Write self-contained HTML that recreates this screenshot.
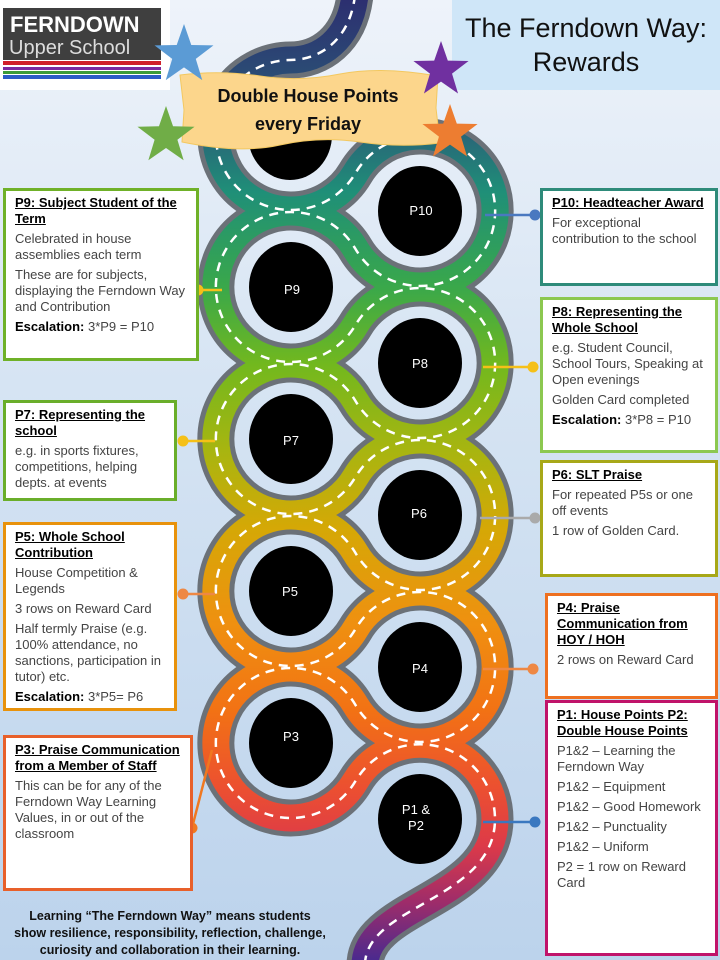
<!DOCTYPE html>
<html><head><meta charset="utf-8"><style>
*{margin:0;padding:0;box-sizing:border-box}
body{width:720px;height:960px;overflow:hidden;position:relative;font-family:"Liberation Sans",sans-serif;background:linear-gradient(180deg,#eef3fa 0%,#d6e4f3 40%,#bcd3ec 100%)}
.box{position:absolute;background:#fff;border:3px solid;padding:4px 8px 4px 9px;font-size:13px;line-height:16px;color:#444;overflow:hidden}
.box h4{font-size:13px;font-weight:bold;text-decoration:underline;color:#000;margin-bottom:4px;line-height:16px}
.box p{margin-bottom:4px}
.box b{color:#000}
svg{position:absolute;left:0;top:0}
</style></head><body>
<svg width="720" height="960" viewBox="0 0 720 960">
<defs>
<linearGradient id="rg" gradientUnits="userSpaceOnUse" x1="0" y1="0" x2="0" y2="960">
<stop offset="0" stop-color="#2c2f70"/><stop offset="0.13" stop-color="#2a5f78"/>
<stop offset="0.2" stop-color="#1f8f78"/><stop offset="0.3" stop-color="#3aa84a"/>
<stop offset="0.38" stop-color="#72b81e"/><stop offset="0.47" stop-color="#a8b510"/>
<stop offset="0.55" stop-color="#d5a806"/><stop offset="0.65" stop-color="#ef9010"/>
<stop offset="0.74" stop-color="#f27214"/><stop offset="0.82" stop-color="#ec5030"/>
<stop offset="0.88" stop-color="#dd3a48"/><stop offset="0.94" stop-color="#9e2c6a"/>
<stop offset="1" stop-color="#4b2a8e"/></linearGradient>
<path id="rp" d="M355,-5 C350,40 320,60 290,60 A75,75 0 1 0 355.5,173 A75,75 0 1 1 355.5,249 A75,75 0 1 0 355.5,325 A75,75 0 1 1 355.5,401 A75,75 0 1 0 355.5,477 A75,75 0 1 1 355.5,553 A75,75 0 1 0 355.5,629 A75,75 0 1 1 355.5,705 A75,75 0 1 0 355.5,781 A75,75 0 0 1 495,819 C495,900 365,905 365,965"/>
</defs>
<g fill="none">
<use href="#rp" stroke="#6b7178" stroke-width="37"/>
<use href="#rp" stroke="url(#rg)" stroke-width="27"/>
<use href="#rp" stroke="#fff" stroke-width="2.5" stroke-dasharray="9 7"/>
</g>
<g fill="#000">
<ellipse cx="290" cy="135" rx="42" ry="45"/>
<ellipse cx="420" cy="211" rx="42" ry="45"/><ellipse cx="291" cy="287" rx="42" ry="45"/>
<ellipse cx="420" cy="363" rx="42" ry="45"/><ellipse cx="291" cy="439" rx="42" ry="45"/>
<ellipse cx="420" cy="515" rx="42" ry="45"/><ellipse cx="291" cy="591" rx="42" ry="45"/>
<ellipse cx="420" cy="667" rx="42" ry="45"/><ellipse cx="291" cy="743" rx="42" ry="45"/>
<ellipse cx="420" cy="819" rx="42" ry="45"/>
</g>
<g fill="#fff" font-size="13" text-anchor="middle" font-family="Liberation Sans,sans-serif">
<text x="421" y="215">P10</text><text x="292" y="294">P9</text><text x="420" y="368">P8</text>
<text x="291" y="445">P7</text><text x="419" y="518">P6</text><text x="290" y="596">P5</text>
<text x="420" y="673">P4</text><text x="291" y="741">P3</text>
<text x="416" y="814">P1 &amp;</text><text x="416" y="830">P2</text>
</g>
<g stroke-width="2.5">
<line x1="485" y1="215" x2="535" y2="215" stroke="#4a78c0"/><circle cx="535" cy="215" r="5.5" fill="#4a78c0"/>
<line x1="198" y1="290" x2="222" y2="290" stroke="#f5c018"/><circle cx="198" cy="290" r="5.5" fill="#f5c018"/>
<line x1="483" y1="367" x2="533" y2="367" stroke="#f5c018"/><circle cx="533" cy="367" r="5.5" fill="#f5c018"/>
<line x1="183" y1="441" x2="215" y2="441" stroke="#f5c018"/><circle cx="183" cy="441" r="5.5" fill="#f5c018"/>
<line x1="480" y1="518" x2="535" y2="518" stroke="#aaa"/><circle cx="535" cy="518" r="5.5" fill="#aaa"/>
<line x1="183" y1="594" x2="215" y2="594" stroke="#ee8844"/><circle cx="183" cy="594" r="5.5" fill="#ee8844"/>
<line x1="483" y1="669" x2="533" y2="669" stroke="#ee8844"/><circle cx="533" cy="669" r="5.5" fill="#ee8844"/>
<line x1="212" y1="750" x2="192" y2="828" stroke="#f07820"/><circle cx="192" cy="828" r="5.5" fill="#f07820"/>
<line x1="483" y1="822" x2="535" y2="822" stroke="#3a78c0"/><circle cx="535" cy="822" r="5.5" fill="#3a78c0"/>
</g>
<rect x="0" y="0" width="170" height="90" fill="#fff"/>
<rect x="3" y="8" width="158" height="52" fill="#3f3f3f"/>
<text x="10" y="32" fill="#fff" font-size="22" font-weight="bold" font-family="Liberation Sans,sans-serif">FERNDOWN</text>
<text x="9" y="54" fill="#ddd" font-size="20" font-family="Liberation Sans,sans-serif">Upper School</text>
<rect x="3" y="61" width="158" height="4" fill="#d0202a"/>
<rect x="3" y="67" width="158" height="3" fill="#7a2aa0"/>
<rect x="3" y="71" width="158" height="3" fill="#3a9a3a"/>
<rect x="3" y="75" width="158" height="4" fill="#2a5ac8"/>
<rect x="452" y="0" width="268" height="90" fill="#cfe6f8"/>
<text x="586" y="37" text-anchor="middle" font-size="27" fill="#111" font-family="Liberation Sans,sans-serif">The Ferndown Way:</text>
<text x="586" y="71" text-anchor="middle" font-size="27" fill="#111" font-family="Liberation Sans,sans-serif">Rewards</text>
<path d="M180,75 Q220,70 260,76 T340,74 T438,76 L436,108 L440,143 Q400,148 360,142 T280,145 T182,142 L184,110 Z" fill="#fcd68c" stroke="#f3c860" stroke-width="1"/>
<text x="308" y="102" text-anchor="middle" font-size="18" font-weight="bold" fill="#111" font-family="Liberation Sans,sans-serif">Double House Points</text>
<text x="308" y="130" text-anchor="middle" font-size="18" font-weight="bold" fill="#111" font-family="Liberation Sans,sans-serif">every Friday</text>
<g transform="translate(184,55) scale(31)"><polygon fill="#5b9bd5" points="0,-1 0.235,-0.324 0.951,-0.309 0.38,0.124 0.588,0.809 0,0.4 -0.588,0.809 -0.38,0.124 -0.951,-0.309 -0.235,-0.324"/></g>
<g transform="translate(441,70) scale(29)"><polygon fill="#7030a0" points="0,-1 0.235,-0.324 0.951,-0.309 0.38,0.124 0.588,0.809 0,0.4 -0.588,0.809 -0.38,0.124 -0.951,-0.309 -0.235,-0.324"/></g>
<g transform="translate(166,136) scale(30)"><polygon fill="#70ad47" points="0,-1 0.235,-0.324 0.951,-0.309 0.38,0.124 0.588,0.809 0,0.4 -0.588,0.809 -0.38,0.124 -0.951,-0.309 -0.235,-0.324"/></g>
<g transform="translate(450,133) scale(29)"><polygon fill="#ed7d31" points="0,-1 0.235,-0.324 0.951,-0.309 0.38,0.124 0.588,0.809 0,0.4 -0.588,0.809 -0.38,0.124 -0.951,-0.309 -0.235,-0.324"/></g>
<g font-size="12.5" font-weight="bold" text-anchor="middle" fill="#111" font-family="Liberation Sans,sans-serif">
<text x="170" y="920">Learning “The Ferndown Way” means students</text>
<text x="170" y="937">show resilience, responsibility, reflection, challenge,</text>
<text x="170" y="954">curiosity and collaboration in their learning.</text>
</g>
</svg>

<div class="box" style="left:3px;top:188px;width:196px;height:173px;border-color:#6fb128"><h4>P9: Subject Student of the Term</h4><p>Celebrated in house assemblies each term</p><p>These are for subjects, displaying the Ferndown Way and Contribution</p><p><b>Escalation:</b> 3*P9 = P10</p></div>
<div class="box" style="left:540px;top:188px;width:178px;height:98px;border-color:#2e8b7a"><h4>P10: Headteacher Award</h4><p>For exceptional contribution to the school</p></div>
<div class="box" style="left:540px;top:297px;width:178px;height:156px;border-color:#8cc850"><h4>P8: Representing the Whole School</h4><p>e.g. Student Council, School Tours, Speaking at Open evenings</p><p>Golden Card completed</p><p><b>Escalation:</b> 3*P8 = P10</p></div>
<div class="box" style="left:3px;top:400px;width:174px;height:101px;border-color:#6aae2a"><h4>P7: Representing the school</h4><p>e.g. in sports fixtures, competitions, helping depts. at events</p></div>
<div class="box" style="left:540px;top:460px;width:178px;height:117px;border-color:#a7a818"><h4>P6: SLT Praise</h4><p>For repeated P5s or one off events</p><p>1 row of Golden Card.</p></div>
<div class="box" style="left:3px;top:522px;width:174px;height:189px;border-color:#e8920c"><h4>P5: Whole School Contribution</h4><p>House Competition &amp; Legends</p><p>3 rows on Reward Card</p><p>Half termly Praise (e.g. 100% attendance, no sanctions, participation in tutor) etc.</p><p><b>Escalation:</b> 3*P5= P6</p></div>
<div class="box" style="left:545px;top:593px;width:173px;height:106px;border-color:#ee7020"><h4>P4: Praise Communication from HOY / HOH</h4><p>2 rows on Reward Card</p></div>
<div class="box" style="left:3px;top:735px;width:190px;height:156px;border-color:#e8602a"><h4>P3: Praise Communication from a Member of Staff</h4><p>This can be for any of the Ferndown Way Learning Values, in or out of the classroom</p></div>
<div class="box" style="left:545px;top:700px;width:173px;height:256px;border-color:#c0136a"><h4>P1:  House Points P2: Double House Points</h4><p>P1&amp;2 – Learning the Ferndown Way</p><p>P1&amp;2 – Equipment</p><p>P1&amp;2 – Good Homework</p><p>P1&amp;2 – Punctuality</p><p>P1&amp;2 – Uniform</p><p>P2 = 1 row on Reward Card</p></div>
</body></html>
